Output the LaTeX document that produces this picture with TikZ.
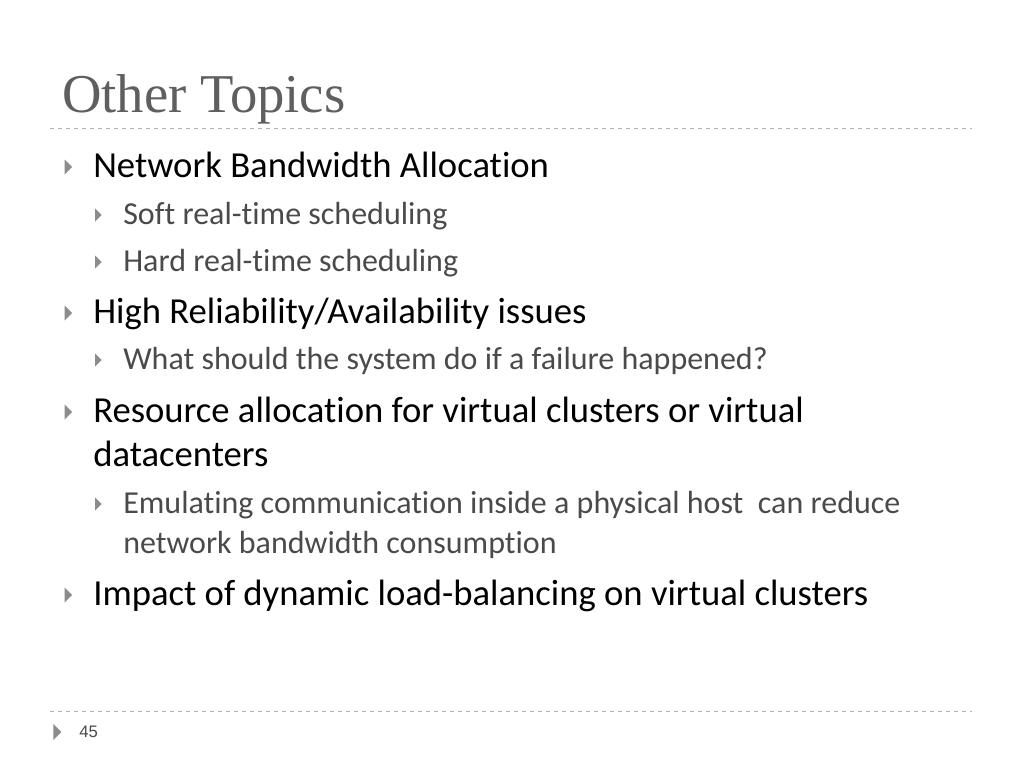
\documentclass[tikz,border=0pt]{standalone}
\usepackage{fontspec}
\setmainfont{Carlito}[Ligatures={NoCommon}]
\newfontfamily\titlefont{Liberation Serif}
\newfontfamily\numfont{Liberation Sans}
\usetikzlibrary{positioning}
\definecolor{titlegray}{HTML}{5F5F5F}
\definecolor{subgray}{HTML}{4A4A4A}
\definecolor{bulgray}{HTML}{8C8C8C}
\definecolor{rulegray}{HTML}{B4B4B4}
\tikzset{
	lvlone/.style={anchor=base west, inner sep=0pt, font=\fontsize{27.5}{30}\selectfont, text=black},
	lvltwo/.style={anchor=base west, inner sep=0pt, font=\fontsize{24}{26}\selectfont, text=subgray},
	bul/.style={fill=bulgray, draw=none},
	sep/.style={draw=rulegray, dashed, line width=0.6pt}
}
\newcommand{\tri}[3]{\fill[bul] (#1-#3*0.45,#2-#3) -- (#1+#3*0.55,#2) -- (#1-#3*0.45,#2+#3) -- cycle;}
\begin{document}
\begin{tikzpicture}[x=0.75pt, y=-0.75pt]
	\useasboundingbox (0,0) rectangle (1024,768);
	%% title
	\node [anchor=base west, inner sep=0pt, font=\titlefont\fontsize{41}{44}\selectfont, text=titlegray] (title) at (62,112) {Other Topics};
	\draw [sep] (50,128) -- (972,128);
	\draw [sep] (50,711) -- (972,711);
	%% items
	\node [lvlone] (net) at (93,177) {Network Bandwidth Allocation};
	\node [lvltwo] (soft) at (123,224) {Soft real-time scheduling};
	\node [lvltwo] (hard) at (123,271) {Hard real-time scheduling};
	\node [lvlone] (high) at (93,323) {High Reliability/Availability issues};
	\node [lvltwo] (what) at (123,369) {What should the system do if a failure happened?};
	\node [lvlone] (res) at (93,422) {Resource allocation for virtual clusters or virtual};
	\node [lvlone] (dc) at (93,466) {datacenters};
	\node [lvltwo] (emu) at (123,513) {Emulating communication inside a physical host\ \ can reduce};
	\node [lvltwo] (nbc) at (123,553) {network bandwidth consumption};
	\node [lvlone] (imp) at (93,605) {Impact of dynamic load-balancing on virtual clusters};
	%% bullets
	\tri{68}{167}{7.5}
	\tri{68}{313}{7.5}
	\tri{68}{412}{7.5}
	\tri{68}{595}{7.5}
	\tri{98}{215}{6.5}
	\tri{98}{262}{6.5}
	\tri{98}{360}{6.5}
	\tri{98}{504}{6.5}
	%% footer
	\tri{57}{732}{8}
	\node [anchor=base west, inner sep=0pt, font=\numfont\fontsize{12.5}{14}\selectfont, text=subgray] (page) at (79,737) {45};
\end{tikzpicture}
\end{document}
